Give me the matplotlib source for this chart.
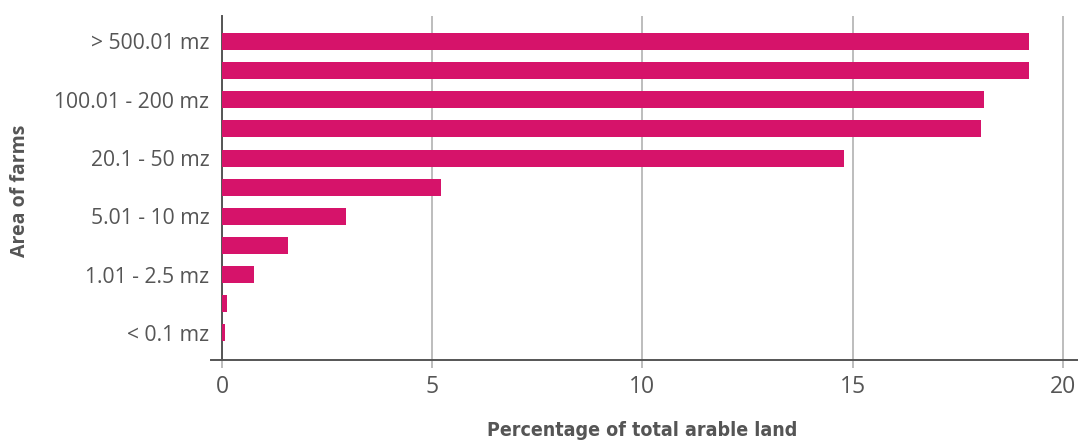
import numpy as np
import matplotlib.pyplot as plt

# farm size bands (top to bottom) and share of arable land (%)
categories = ["> 500.01 mz", "200.01 - 500 mz", "100.01 - 200 mz", "50.01 - 100 mz",
              "20.1 - 50 mz", "10.01 - 20 mz", "5.01 - 10 mz", "2.51 - 5 mz",
              "1.01 - 2.5 mz", "0.1 - 1 mz", "< 0.1 mz"]
values = [19.19, 19.19, 18.12, 18.05, 14.79, 5.21, 2.95, 1.57, 0.76, 0.13, 0.06]
shown_labels = [c if i % 2 == 0 else "" for i, c in enumerate(categories)]
xticks = [0, 5, 10, 15, 20]

bar_color = "#d6136a"
text_color = "#555555"

fig = plt.figure(figsize=(10.78, 4.42), dpi=100)
ax = fig.add_axes([222 / 1078, 1 - 360 / 442, 1 - 222 / 1078, (360 - 16) / 442])

y = np.arange(len(categories))
ax.barh(y, values, height=0.585, color=bar_color, zorder=3)

ax.set_xlim(0, 20.36)
ax.set_ylim(10.93, -0.875)
ax.set_xticks(xticks)
ax.set_yticks(y)
ax.set_yticklabels(shown_labels)

ax.grid(axis="x", color="#bdbdbd", linewidth=1.4, zorder=0)
ax.tick_params(axis="x", length=6, width=1.4, color="#bdbdbd", pad=5,
               labelsize=16.5, labelcolor=text_color)
ax.tick_params(axis="y", length=0, pad=9, labelsize=15.2, labelcolor=text_color)
for lab in ax.get_xticklabels() + ax.get_yticklabels():
    lab.set_family("Open Sans")

for s in ["top", "right"]:
    ax.spines[s].set_visible(False)
ax.spines["left"].set_color("#555555")
ax.spines["left"].set_linewidth(1.4)
ax.spines["bottom"].set_color("#555555")
ax.spines["bottom"].set_linewidth(1.4)
ax.spines["bottom"].set_bounds(-0.25, 20.36)

ax.set_xlabel("Percentage of total arable land", family="DejaVu Sans", stretch="condensed",
              weight="bold", fontsize=14, color=text_color)
ax.xaxis.set_label_coords((642 - 222) / 856, -(430 - 360) / 344)
ax.xaxis.label.set_va("center")
fig.text(20 / 1078, 1 - 191 / 442, "Area of farms", rotation=90, ha="center", va="center",
         family="Open Sans", weight="bold", fontsize=14, color=text_color)

fig.savefig("out.png", dpi=100)
